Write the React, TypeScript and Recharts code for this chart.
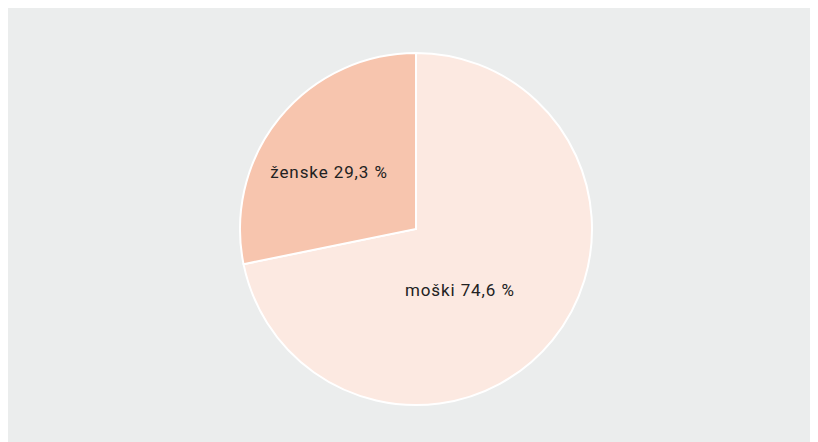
import React from "react";
import { PieChart, Pie, Cell } from "recharts";

const categories = ["moški", "ženske"];
const values = [74.6, 29.3];
const labels = ["moški 74,6 %", "ženske 29,3 %"];
const colors = ["#fce9e1", "#f7c5ae"];

const data = categories.map((c, i) => ({ name: c, value: values[i], label: labels[i] }));

// label placement (angle shift in degrees, radius) per slice
const labelPlacement = [
  { angleShift: -15, radius: 75 },
  { angleShift: 6, radius: 104 },
];

const RADIAN = Math.PI / 180;

const renderLabel = (props: any) => {
  const { cx, cy, midAngle, index } = props;
  const p = labelPlacement[index];
  const a = (midAngle + p.angleShift) * RADIAN;
  const x = cx + p.radius * Math.cos(a);
  const y = cy - p.radius * Math.sin(a);
  return (
    <text
      x={x}
      y={y}
      fill="#222"
      textAnchor="middle"
      dominantBaseline="central"
      fontFamily="Roboto, sans-serif"
      fontSize={17}
      letterSpacing={0.9}
    >
      {data[index].label}
    </text>
  );
};

export default function App() {
  return (
    <div style={{ width: 810, height: 434, background: "#ebeded" }}>
      <PieChart width={810} height={434}>
        <Pie
          data={data}
          dataKey="value"
          nameKey="name"
          cx={403}
          cy={216}
          outerRadius={176}
          startAngle={90}
          endAngle={-270}
          stroke="#ffffff"
          strokeWidth={2}
          label={renderLabel}
          labelLine={false}
          isAnimationActive={false}
        >
          {data.map((d, i) => (
            <Cell key={d.name} fill={colors[i]} />
          ))}
        </Pie>
      </PieChart>
    </div>
  );
}
